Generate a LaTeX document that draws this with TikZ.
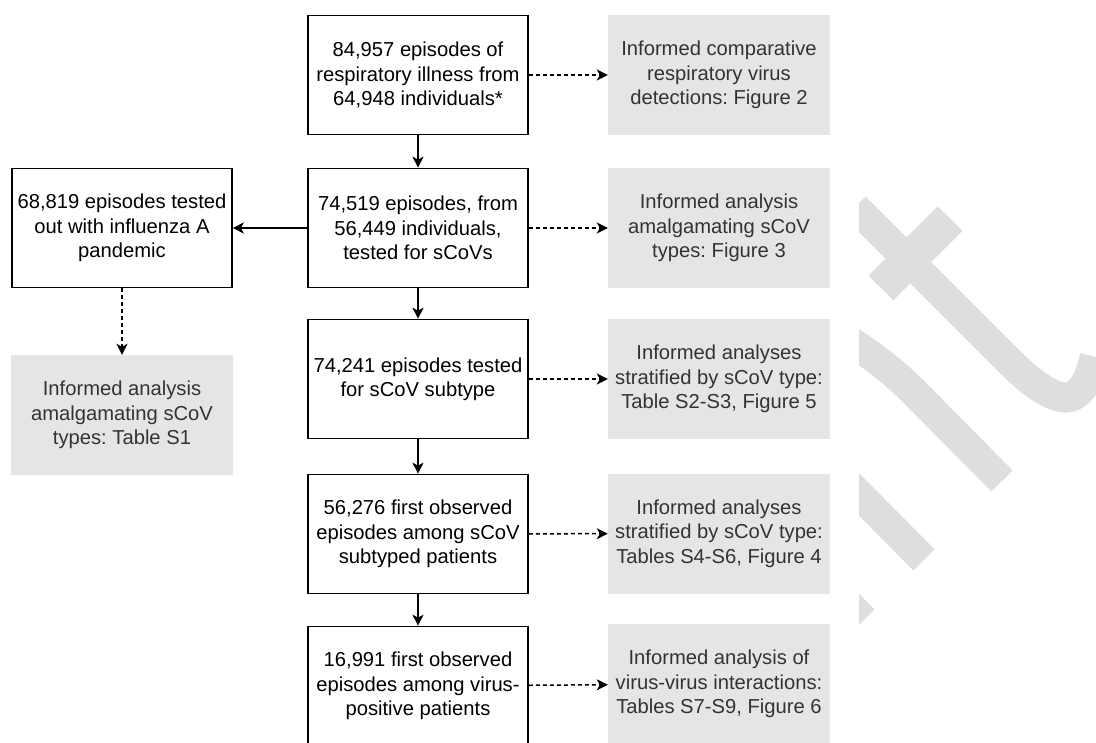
\documentclass[tikz,border=0pt]{standalone}
\usepackage{fontspec}
\setmainfont{Liberation Sans}
\usetikzlibrary{arrows.meta}
\frenchspacing

\begin{document}
\begin{tikzpicture}
		[x=1pt,y=-1pt,
		stage/.style={draw,line width=1.6pt,minimum width=220pt,minimum height=119pt,inner sep=0pt,align=center,font=\fontsize{20.2}{24.4}\selectfont},
		result/.style={fill=black!10,minimum width=222pt,minimum height=120pt,inner sep=0pt,align=center,text=black!80,font=\fontsize{20.2}{24.4}\selectfont},
		flow/.style={-{Stealth[length=11pt,width=11pt,inset=3pt]},line width=1.6pt},
		link/.style={-{Stealth[length=11pt,width=11pt,inset=3pt]},line width=1.5pt,dash pattern=on 4pt off 3pt},
		wmark/.style={draw=black!13,line width=30pt}]
		\useasboundingbox (0,0) rectangle (1096,743);

		% draw the faint watermark on the right
		\begin{scope}
			\clip (859,0) rectangle (1096,743);
			\draw[wmark] (855,207) -- (1010,362) .. controls (1040,392) and (1060,400) .. (1070,397) .. controls (1085,392) and (1090,375) .. (1095,357);
			\draw[wmark,line width=35pt] (881,288) -- (950,218.5);
			\draw[wmark] (835,332) .. controls (865,350) and (890,368) .. (915,393) -- (1002,481);
			\draw[wmark] (830,465) -- (924,560);
			\draw[wmark] (820,576) -- (864,620);
		\end{scope}

		% draw the main column of episodes
		\node[stage] (total) at (418,75) {84,957 episodes of\\respiratory illness from\\64,948 individuals*};
		\node[stage] (tested) at (418,228) {74,519 episodes, from\\56,449 individuals,\\tested for sCoVs};
		\node[stage] (subtype) at (418,379) {74,241 episodes tested\\for sCoV subtype};
		\node[stage] (first) at (418,534) {56,276 first observed\\episodes among sCoV\\subtyped patients};
		\node[stage] (positive) at (418,686) {16,991 first observed\\episodes among virus-\\positive patients};
		\node[stage] (pandemic) at (122,228) {68,819 episodes tested\\out with influenza A\\pandemic};

		% draw the grey boxes with the analyses
		\node[result] (fig2) at (719,75) {Informed comparative\\respiratory virus\\detections: Figure 2};
		\node[result] (fig3) at (719,228) {Informed analysis\\amalgamating sCoV\\types: Figure 3};
		\node[result] (fig5) at (719,379) {Informed analyses\\stratified by sCoV type:\\Table S2-S3, Figure 5};
		\node[result] (fig4) at (719,533.5) {Informed analyses\\stratified by sCoV type:\\Tables S4-S6, Figure 4};
		\node[result] (fig6) at (719,684) {Informed analysis of\\virus-virus interactions:\\Tables S7-S9, Figure 6};
		\node[result] (tabS1) at (122,415) {Informed analysis\\amalgamating sCoV\\types: Table S1};

		% draw the arrows
		\draw[flow] (total) -- (tested);
		\draw[flow] (tested) -- (subtype);
		\draw[flow] (subtype) -- (first);
		\draw[flow] (first) -- (positive);
		\draw[flow] (tested) -- (pandemic);
		\draw[link] (total) -- (fig2);
		\draw[link] (tested) -- (fig3);
		\draw[link] (subtype) -- (fig5);
		\draw[link] (first) -- (fig4);
		\draw[link] (positive) -- (fig6);
		\draw[link] (pandemic) -- (tabS1);
	\end{tikzpicture}
\end{document}
